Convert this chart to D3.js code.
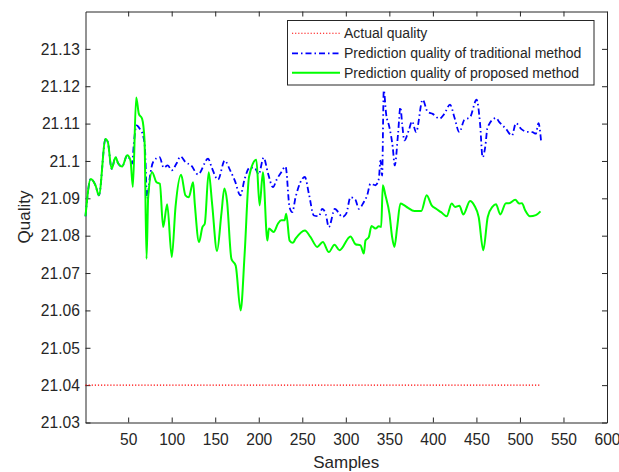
<!DOCTYPE html>
<html>
<head>
<meta charset="utf-8">
<script src="https://cdn.jsdelivr.net/npm/d3@7"></script>
<style>
  html, body { margin: 0; padding: 0; background: #fff; }
  svg { display: block; }
  text { font-family: Arial, "Liberation Sans", Helvetica, sans-serif; fill: #262626; }
</style>
</head>
<body>
<svg id="chart" width="619" height="472"></svg>
<script>
// ---- data ----
const xTicks = [50, 100, 150, 200, 250, 300, 350, 400, 450, 500, 550, 600];
const yTicks = [21.03, 21.04, 21.05, 21.06, 21.07, 21.08, 21.09, 21.1, 21.11, 21.12, 21.13];
const yTickLabels = ["21.03", "21.04", "21.05", "21.06", "21.07", "21.08", "21.09", "21.1", "21.11", "21.12", "21.13"];
const seriesNames = ["Actual quality", "Prediction quality of traditional method", "Prediction quality of proposed method"];

const actualX = [1, 524];
const actualY = [21.04, 21.04];

const proposedX = [1, 7, 12.6, 16.4, 24, 26.7, 31, 35.5, 38.6, 43, 48.9, 52.7, 55.4, 59.2, 62.3, 66, 68.8, 71.1, 73, 77.5,
  82.5, 86.4, 90.2, 94.8, 100.1, 104.4, 110.8, 115.8, 119.6, 124.6, 126.5, 131.4, 135.3, 138, 142.5, 146.4, 152.1, 157.1,
  160.5, 163.5, 168.6, 173.5, 179.2, 183.8, 188.8, 197.2, 201, 204.8, 209.9, 211.7, 217.1, 222, 225.9, 229.6, 231.6,
  235.4, 239.2, 242.3, 253, 259.5, 267.2, 273.6, 280.5, 287, 292.8, 305.4, 311.1, 316.9, 320.7, 322.6, 326.4, 329.5,
  334.1, 337.9, 340.6, 342.5, 345.5, 350.1, 353.2, 355.8, 359, 362.7, 367.3, 371.1, 378.8, 386.6, 392.9, 398.6, 403.7,
  409.4, 415.8, 421.6, 425.5, 430.4, 435, 442.7, 447.6, 452.6, 457.9, 463, 468.6, 472.5, 477.4, 483.9, 487.6, 494.6,
  499.1, 502.3, 506, 511.5, 518.3, 523.6];
const proposedY = [21.0852, 21.0952, 21.0934, 21.0908, 21.1059, 21.105, 21.0979, 21.101, 21.0993, 21.0985, 21.1015, 21.1001,
  21.093, 21.117, 21.1126, 21.1113, 21.1055, 21.0738, 21.0903, 21.097,
  21.0943, 21.0939, 21.0823, 21.0884, 21.0743, 21.0877, 21.0963, 21.0908, 21.0903, 21.0943, 21.0886, 21.0783, 21.0823,
  21.0832, 21.097, 21.0886, 21.0759, 21.0859,
  21.0926, 21.0894, 21.0738, 21.072, 21.06, 21.0752, 21.0957, 21.1003, 21.0881, 21.097, 21.0787, 21.0819, 21.081,
  21.0832, 21.0841, 21.0841, 21.0859,
  21.0787, 21.0781, 21.0792, 21.0814, 21.0796, 21.077, 21.0783, 21.0756, 21.0776, 21.0761, 21.0798, 21.0777, 21.0774,
  21.0752, 21.0787, 21.0796, 21.0826,
  21.0819, 21.0825, 21.0823, 21.0935, 21.0908, 21.0859, 21.0796, 21.077, 21.0823, 21.0886, 21.0881, 21.0875, 21.0866,
  21.0866, 21.0908, 21.0881, 21.0872,
  21.0863, 21.0852, 21.0886, 21.0877, 21.088, 21.0857, 21.0893, 21.0881, 21.085, 21.0761, 21.085, 21.0878, 21.0884,
  21.0857, 21.0887, 21.0887, 21.0896,
  21.0886, 21.0887, 21.0868, 21.0852, 21.0855, 21.0865];

const traditionalX = [1, 7, 12.6, 16.4, 24, 26.7, 31, 35.5, 38.6, 43, 48.9, 52.7, 54.6, 56.5, 59.6, 63.4, 66.5, 69.2, 71.8,
  74.9, 78.7, 86, 90.9, 95.5, 100.1, 105.5, 110.1, 115.8, 122.3, 130.3, 141.8, 145.9, 153.2, 160.9, 166.9, 172.4, 178.9,
  183.8, 189.6, 195.3, 199.9, 205.6, 210.6, 216.3, 221, 225.9, 230.8, 235.4, 238.5, 242.3, 253, 257.6, 263.3, 269.1,
  272.9, 276.8, 280.5, 287.4, 291.3, 295.9, 300.5, 305.4, 311.1, 314.9, 320.7, 324.5, 328.3, 334.1, 337.9, 339.8, 341.7,
  343.6, 346.3, 350.1, 353.9, 356.2, 360, 362.7, 364.7, 367.3, 372.3, 376.1, 380.7, 388.3, 394, 399.8, 407.5, 413.2,
  419.7, 424.7, 430.4, 436.1, 442.7, 450.2, 454.2, 457.1, 460.1, 462.8, 472.5, 476.3, 483.9, 490.8, 495.4, 501.3,
  507.6, 514.4, 518.3, 521.3, 524.4];
const traditionalY = [21.0852, 21.0952, 21.0934, 21.0908, 21.1059, 21.105, 21.0979, 21.101, 21.0993, 21.0985, 21.1015, 21.1001,
  21.0993, 21.1046, 21.1095, 21.1086, 21.1073, 21.1037, 21.0899,
  21.0957, 21.0997, 21.101, 21.0982, 21.0988, 21.0975, 21.0993, 21.1012, 21.0997, 21.0988, 21.0964, 21.1006, 21.0983,
  21.095, 21.1001, 21.0976, 21.0948, 21.0908,
  21.0952, 21.0982, 21.0982, 21.0964, 21.1009, 21.0967, 21.093, 21.0952, 21.097, 21.0985, 21.0876, 21.0863, 21.0903,
  21.0957, 21.0912, 21.0854, 21.0852,
  21.0872, 21.0859, 21.0823, 21.0872, 21.0863, 21.085, 21.0859, 21.0903, 21.0896, 21.0872, 21.089, 21.0908, 21.0939,
  21.0935, 21.0952, 21.1001, 21.0961,
  21.1189, 21.1126, 21.109, 21.1037, 21.0988, 21.1073, 21.1144, 21.11, 21.1055, 21.1082, 21.1106, 21.1077, 21.1164,
  21.1131, 21.1126, 21.1113, 21.1126,
  21.1151, 21.1117, 21.1077, 21.111, 21.1117, 21.1164, 21.11, 21.101, 21.1037, 21.109, 21.1115, 21.1104, 21.1086,
  21.1068, 21.1101, 21.1086,
  21.1078, 21.1077, 21.1073, 21.1101, 21.105];

// ---- layout ----
const svg = d3.select("#chart");
const L = 85.5, R = 607, T = 11.5, B = 422.5;
const x = d3.scaleLinear().domain([1, 600]).range([L, R]);
const y = d3.scaleLinear().domain([21.03, 21.14]).range([B, T]);
const ink = "#262626";

svg.append("rect").attr("x", 0).attr("y", 0).attr("width", 619).attr("height", 472).attr("fill", "#fff");

// axes
const gx = svg.append("g").attr("transform", `translate(0,${B})`)
  .call(d3.axisBottom(x).tickValues(xTicks).tickSize(-5).tickSizeOuter(0).tickPadding(11.6).tickFormat(d3.format("d")));
const gxt = svg.append("g").attr("transform", `translate(0,${T})`)
  .call(d3.axisTop(x).tickValues(xTicks).tickSize(-5).tickSizeOuter(0).tickFormat(""));
const gy = svg.append("g").attr("transform", `translate(${L},0)`)
  .call(d3.axisLeft(y).tickValues(yTicks).tickSize(-5).tickSizeOuter(0).tickPadding(5.7)
    .tickFormat((d, i) => yTickLabels[i]));
const gyr = svg.append("g").attr("transform", `translate(${R},0)`)
  .call(d3.axisRight(y).tickValues(yTicks).tickSize(-5).tickSizeOuter(0).tickFormat(""));

[gx, gxt, gy, gyr].forEach(g => {
  g.select(".domain").attr("stroke", ink).attr("stroke-width", 1);
  g.selectAll(".tick line").attr("stroke", ink).attr("stroke-width", 1);
  g.selectAll(".tick text").attr("fill", ink).style("font-size", "15.6px")
    .style("font-family", "Arial, 'Liberation Sans', sans-serif");
});
gy.selectAll(".tick text").attr("dy", "0.34em");

// axis labels
svg.append("text").attr("x", (L + R) / 2).attr("y", 468).attr("text-anchor", "middle")
  .style("font-size", "17px").text("Samples");
svg.append("text").attr("transform", `translate(30,${(T + B) / 2}) rotate(-90)`).attr("text-anchor", "middle")
  .style("font-size", "17px").text("Quality");

// lines
const mk = (xs, ys) => xs.map((v, i) => [v, ys[i]]);
const line = d3.line().x(d => x(d[0])).y(d => y(d[1])).curve(d3.curveMonotoneX);
const straight = d3.line().x(d => x(d[0])).y(d => y(d[1]));

svg.append("path").datum(mk(actualX, actualY)).attr("d", straight)
  .attr("fill", "none").attr("stroke", "#ff0000").attr("stroke-width", 1.1).attr("stroke-dasharray", "1.2,1.9");
svg.append("path").datum(mk(traditionalX, traditionalY)).attr("d", line)
  .attr("fill", "none").attr("stroke", "#0000ff").attr("stroke-width", 1.8).attr("stroke-dasharray", "6,3,1.5,3")
  .attr("stroke-linejoin", "round");
svg.append("path").datum(mk(proposedX, proposedY)).attr("d", line)
  .attr("fill", "none").attr("stroke", "#00ff00").attr("stroke-width", 2).attr("stroke-linejoin", "round");

// legend
const lg = svg.append("g");
lg.append("rect").attr("x", 287.5).attr("y", 20.5).attr("width", 306.5).attr("height", 64.5)
  .attr("fill", "#fff").attr("stroke", ink).attr("stroke-width", 1);
const rowsY = [33.3, 53.3, 72.7];
const styles = [
  { c: "#ff0000", w: 1.1, dash: "1.2,1.9" },
  { c: "#0000ff", w: 1.8, dash: "6,3,1.5,3" },
  { c: "#00ff00", w: 2, dash: null }
];
seriesNames.forEach((name, i) => {
  const ln = lg.append("line").attr("x1", 292).attr("x2", 340).attr("y1", rowsY[i]).attr("y2", rowsY[i])
    .attr("stroke", styles[i].c).attr("stroke-width", styles[i].w);
  if (styles[i].dash) ln.attr("stroke-dasharray", styles[i].dash);
  lg.append("text").attr("x", 344).attr("y", rowsY[i]).attr("dy", "0.35em")
    .style("font-size", "14px").text(name);
});
</script>
</body>
</html>
